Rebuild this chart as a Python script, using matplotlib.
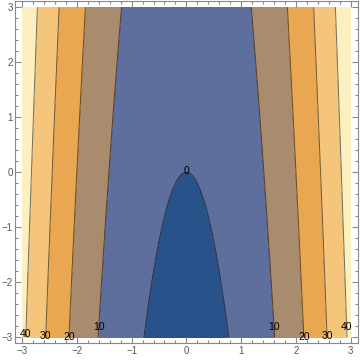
import numpy as np
import matplotlib.pyplot as plt

# contour levels and the region colours between them
levels = [-5, 0, 10, 20, 30, 40, 60]
fill_colors = ['#27538a', '#5e6e9d', '#a98b6e', '#e9a752', '#f6c57c', '#fdf0c0']
line_levels = [0, 10, 20, 30, 40]

# surface f(x, y) = a*x^2 + b*y
a, b = 5.0, 1.0

# where the labels sit (level, y of label)
label_levels = [10, 20, 30, 40]
label_y_left = [-2.81, -3.0, -2.98, -2.94]
label_y_right = [-2.81, -3.0, -2.98, -2.81]

x = np.linspace(-3, 3, 400)
y = np.linspace(-3, 3, 400)
X, Y = np.meshgrid(x, y)
Z = a * X**2 + b * Y

fig = plt.figure(figsize=(3.6, 3.61), dpi=100)
ax = fig.add_axes([0.043, 0.05, 0.951, 0.947])

ax.contourf(X, Y, Z, levels=levels, colors=fill_colors)
ax.contour(X, Y, Z, levels=line_levels, colors='#000000', linewidths=0.7, alpha=0.55)

lab_font = dict(fontsize=7.5, family='Liberation Sans', color='black', ha='center', va='center')
for lev, yl, yr in zip(label_levels, label_y_left, label_y_right):
    ax.text(-np.sqrt((lev - b * yl) / a), yl, str(lev), **lab_font)
    ax.text(np.sqrt((lev - b * yr) / a), yr, str(lev), **lab_font)
ax.text(0, 0.03, '0', **lab_font)

ax.set_xlim(-3.12, 3.13)
ax.set_ylim(-3.1, 3.11)
ticks = [-3, -2, -1, 0, 1, 2, 3]
ax.set_xticks(ticks)
ax.set_yticks(ticks)
ax.set_xticklabels(['\u22123', '\u22122', '\u22121', '0', '1', '2', '3'])
ax.set_yticklabels(['\u22123', '\u22122', '\u22121', '0', '1', '2', '3'])
ax.set_xticks(np.arange(-3, 3.01, 0.2), minor=True)
ax.set_yticks(np.arange(-3, 3.01, 0.2), minor=True)
ax.tick_params(which='both', direction='in', top=True, right=True, color='#888888', width=0.8,
               labelsize=7, labelcolor='#555555', pad=2)
ax.tick_params(which='major', length=4)
ax.tick_params(which='minor', length=2)
for lbl in ax.get_xticklabels() + ax.get_yticklabels():
    lbl.set_family('Liberation Sans')
for sp in ax.spines.values():
    sp.set_color('#888888')
    sp.set_linewidth(0.8)

fig.savefig('out.png', dpi=100)
